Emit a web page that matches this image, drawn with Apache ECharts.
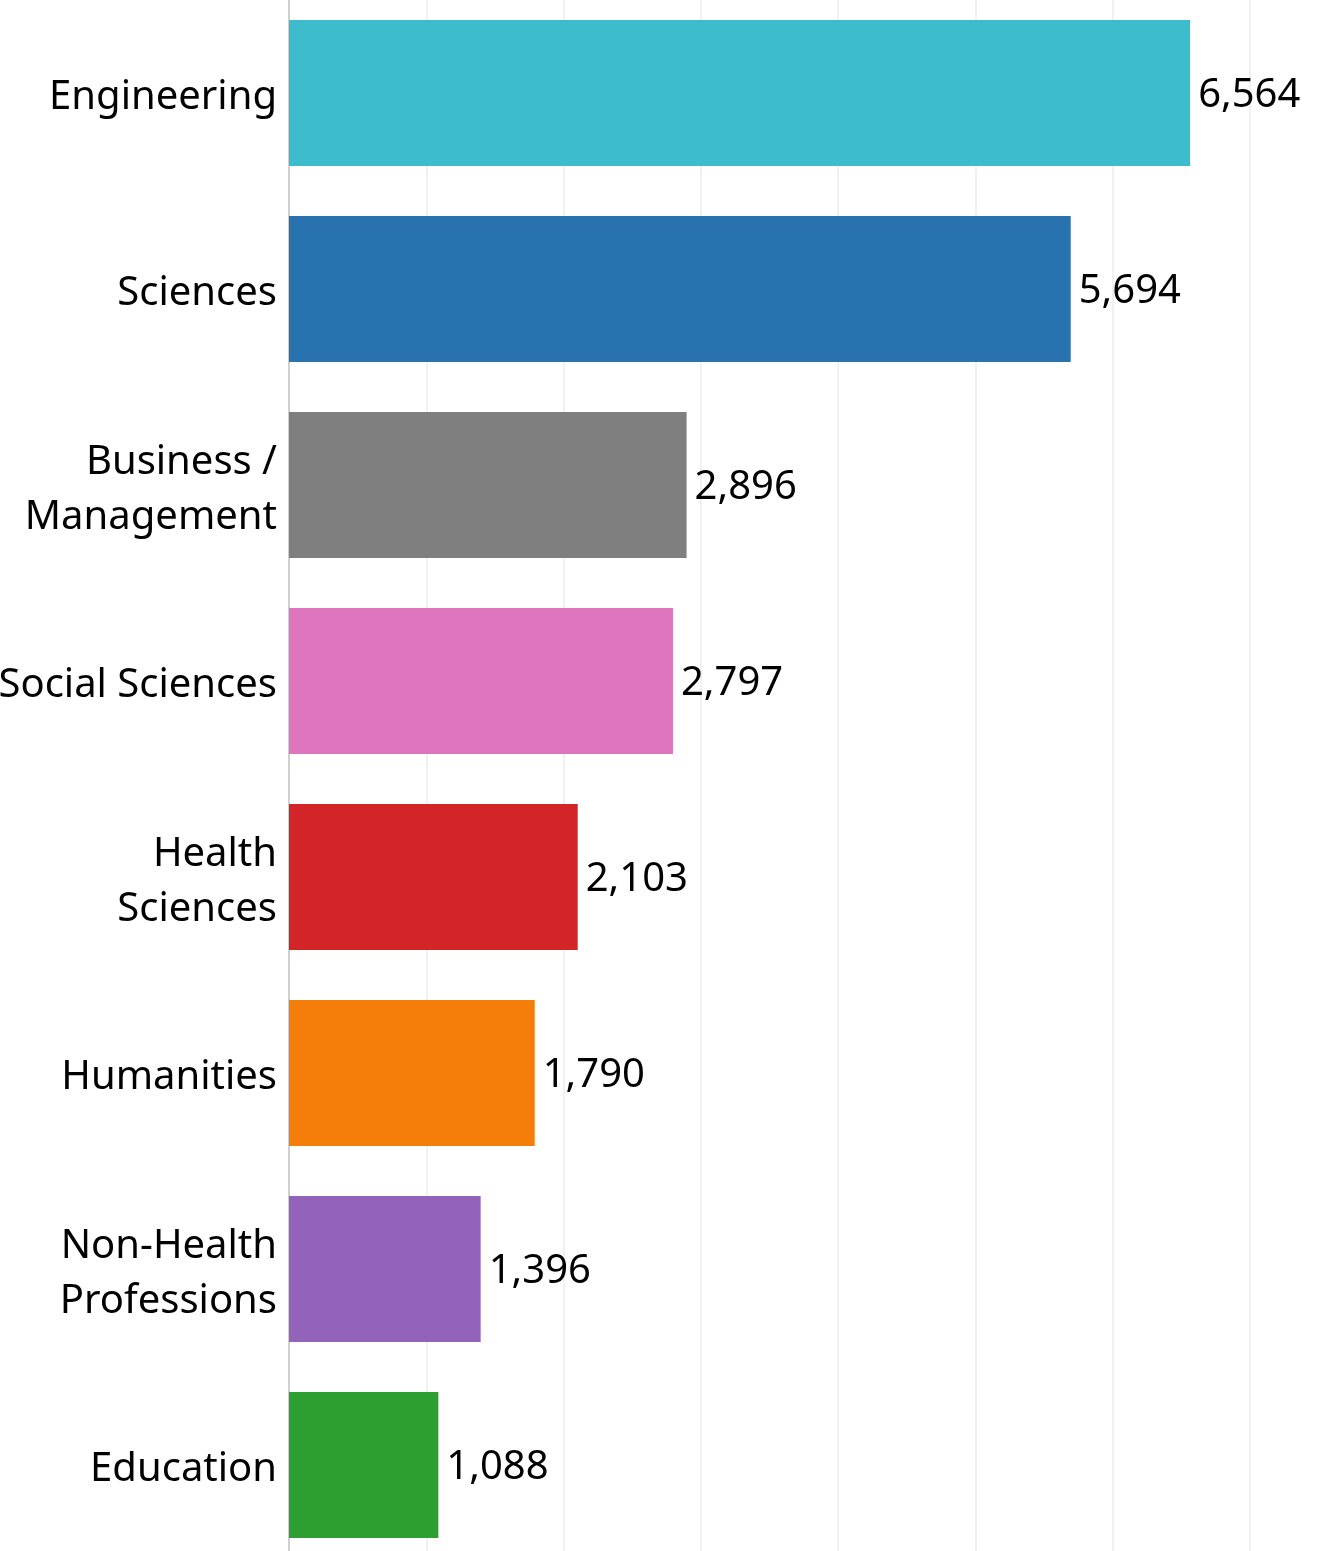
<!DOCTYPE html>
<html>
<head>
<meta charset="utf-8">
<script src="https://cdn.jsdelivr.net/npm/echarts@6/dist/echarts.min.js"></script>
<style>
  html, body { margin: 0; padding: 0; background: #fff; overflow: hidden; }
  #main { width: 1327px; height: 1568px; margin-top: -5px; }
</style>
</head>
<body>
<div id="main"></div>
<script>
var categories = ['Engineering', 'Sciences', 'Business /\nManagement', 'Social Sciences',
  'Health\nSciences', 'Humanities', 'Non-Health\nProfessions', 'Education'];
var values = [6564, 5694, 2896, 2797, 2103, 1790, 1396, 1088];
var colors = ['#3cbccd', '#2873af', '#7f7f7f', '#e075bf', '#d32527', '#f57e0a', '#9363bb', '#2d9e30'];

var chartDom = document.getElementById('main');
var myChart = echarts.init(chartDom);
var font = '"Noto Sans", "Open Sans", sans-serif';

var option = {
  animation: false,
  grid: { left: 289, right: 77, top: 0, bottom: 0, outerBoundsMode: 'none' },
  xAxis: {
    type: 'value',
    min: 0,
    max: 7000,
    interval: 1000,
    axisLabel: { show: false },
    axisLine: { show: false },
    axisTick: { show: false },
    splitLine: { lineStyle: { color: '#ececec', width: 1.5 } }
  },
  yAxis: {
    type: 'category',
    inverse: true,
    data: categories,
    axisLine: { show: true, lineStyle: { color: '#cfcfcf', width: 2 } },
    axisTick: { show: false },
    axisLabel: {
      margin: 12,
      color: '#000',
      fontFamily: font,
      fontSize: 40,
      lineHeight: 55,
      // spacer line on top nudges the text down a few px
      formatter: function (v) {
        return '{s|}\n{a|' + v.split('\n').join('}\n{a|') + '}';
      },
      rich: {
        a: { color: '#000', fontFamily: font, fontSize: 40, lineHeight: 55 },
        s: { lineHeight: 10, fontSize: 1 }
      }
    }
  },
  series: [{
    type: 'bar',
    barCategoryGap: '25.5%',
    data: values.map(function (v, i) {
      return { value: v, itemStyle: { color: colors[i] } };
    }),
    label: {
      show: true,
      position: 'right',
      distance: 8,
      formatter: function (p) { return '{s|}\n{a|' + p.value.toLocaleString('en-US') + '}'; },
      rich: {
        a: { color: '#000', fontFamily: font, fontSize: 40, lineHeight: 55 },
        s: { lineHeight: 6, fontSize: 1 }
      }
    }
  }]
};

myChart.setOption(option);
</script>
</body>
</html>
